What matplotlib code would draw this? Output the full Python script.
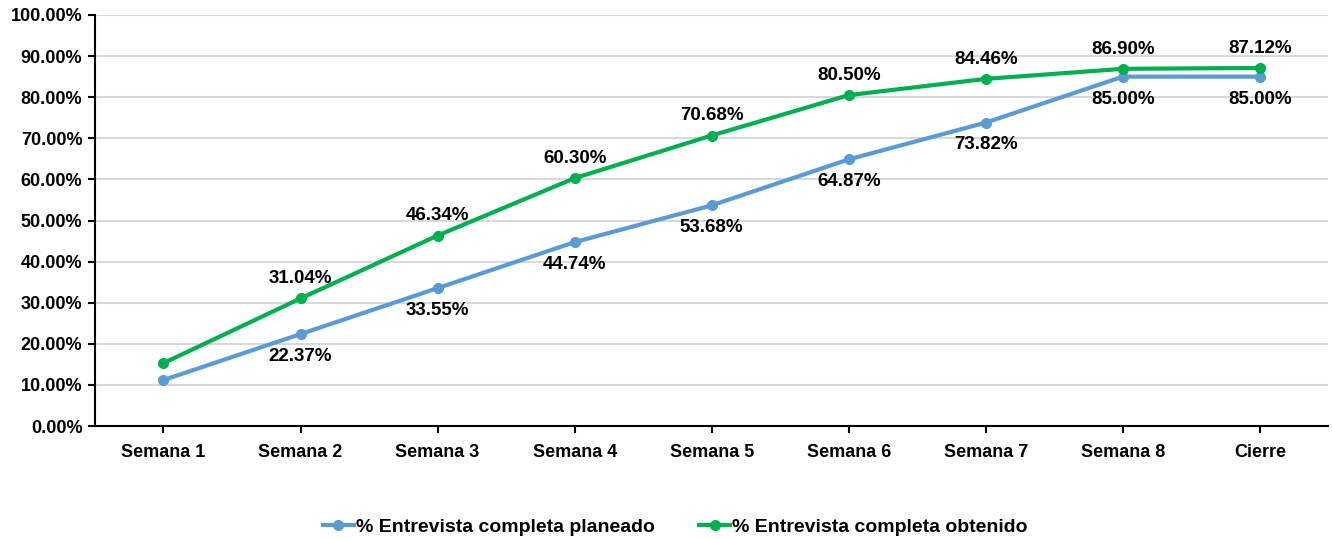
import matplotlib.pyplot as plt
from matplotlib.ticker import FuncFormatter

plt.rcParams['font.family'] = ['Liberation Sans', 'DejaVu Sans']
plt.rcParams['font.weight'] = 'bold'

semanas = ["Semana 1", "Semana 2", "Semana 3", "Semana 4", "Semana 5",
           "Semana 6", "Semana 7", "Semana 8", "Cierre"]
planeado = [11.18, 22.37, 33.55, 44.74, 53.68, 64.87, 73.82, 85.00, 85.00]
obtenido = [15.30, 31.04, 46.34, 60.30, 70.68, 80.50, 84.46, 86.90, 87.12]

fig = plt.figure(figsize=(13.32, 5.39), dpi=100)
ax = fig.add_axes([0.0713, 0.2096, 0.926, 0.7626])

x = list(range(len(semanas)))
ax.plot(x, planeado, color="#5B9BD5", lw=3, marker="o", ms=7,
        label="% Entrevista completa planeado", zorder=3)
ax.plot(x, obtenido, color="#00B050", lw=3, marker="o", ms=7,
        label="% Entrevista completa obtenido", zorder=3)

# etiquetas: sin etiqueta en Semana 1
for i in x[1:]:
    ax.annotate("{:.2f}%".format(planeado[i]), (i, planeado[i]), xytext=(0, -10),
                textcoords="offset points", ha="center", va="top",
                fontsize=13.5, fontweight="bold")
    ax.annotate("{:.2f}%".format(obtenido[i]), (i, obtenido[i]), xytext=(0, 8),
                textcoords="offset points", ha="center", va="bottom",
                fontsize=13.5, fontweight="bold")

ax.set_xlim(-0.5, len(semanas) - 0.5)
ax.set_ylim(0, 100)
ax.set_yticks(range(0, 101, 10))
ax.yaxis.set_major_formatter(FuncFormatter(lambda v, p: "{:.2f}%".format(v)))
ax.set_xticks(x)
ax.set_xticklabels(semanas)
ax.tick_params(axis="both", labelsize=13, width=1.5, length=5, color="black")
ax.tick_params(axis="x", pad=8)
ax.tick_params(axis="y", pad=4)
ax.grid(axis="y", color="#D9D9D9", lw=1.5)
ax.set_axisbelow(True)
for s in ["top", "right"]:
    ax.spines[s].set_visible(False)
ax.spines["left"].set_linewidth(1.5)
ax.spines["bottom"].set_linewidth(1.5)

fig.legend(loc="lower center", bbox_to_anchor=(0.507, -0.026), ncol=2, frameon=False,
           fontsize=14, handlelength=1.6, handletextpad=0.1, columnspacing=2.3)

fig.savefig("out.png", dpi=100)
